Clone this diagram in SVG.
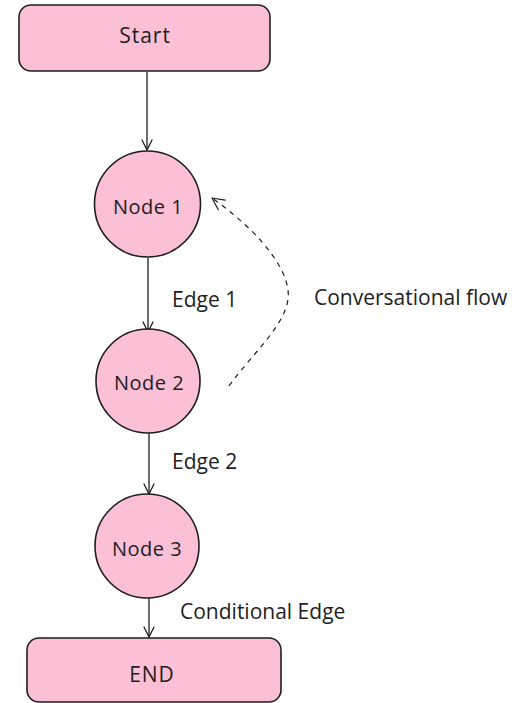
<svg xmlns="http://www.w3.org/2000/svg" width="514" height="703" viewBox="0 0 514 703">
  <defs>
    <marker id="arrow" viewBox="0 0 12 12" refX="11" refY="6" markerWidth="12" markerHeight="12" markerUnits="userSpaceOnUse" orient="auto">
      <path d="M1,1 L11,6 L1,11" fill="none" stroke="#1e1e1e" stroke-width="1.3" stroke-linecap="round" stroke-linejoin="round"/>
    </marker>
    <marker id="arrow-open" viewBox="0 0 14 14" refX="13" refY="7" markerWidth="14" markerHeight="14" markerUnits="userSpaceOnUse" orient="auto">
      <path d="M1,1 L13,7 L1,13" fill="none" stroke="#1e1e1e" stroke-width="1.2" stroke-linecap="round" stroke-linejoin="round"/>
    </marker>
  </defs>
  <style>
    .shape { fill: #fbbfd6; stroke: #1e1e1e; stroke-width: 1.6; }
    .label { font-family: "Open Sans", "DejaVu Sans", sans-serif; font-size: 21px; fill: #1e1e1e; }
    .node-label { font-size: 20px; letter-spacing: 0.5px; }
    .mid { text-anchor: middle; dominant-baseline: central; }
    .edge { fill: none; stroke: #1e1e1e; stroke-width: 1.3; }
    .dash { fill: none; stroke: #1e1e1e; stroke-width: 1.2; stroke-dasharray: 5 5; }
  </style>
  <rect width="514" height="703" fill="#ffffff"/>

  <g id="connectors">
    <path class="edge" d="M147,72 L147,150" marker-end="url(#arrow)"/>
    <path class="edge" d="M148,258 L148,332" marker-end="url(#arrow)"/>
    <path class="edge" d="M149,433 L149,494" marker-end="url(#arrow)"/>
    <path class="edge" d="M149,598 L149,637" marker-end="url(#arrow)"/>
    <path class="dash" d="M229,386 C255,350 292,320 288,290 C284,260 250,225 212,198" marker-end="url(#arrow-open)"/>
    <text class="label" x="172" y="307">Edge 1</text>
    <text class="label" x="172" y="469">Edge 2</text>
    <text class="label" x="180" y="619">Conditional Edge</text>
    <text class="label" x="314" y="305">Conversational flow</text>
  </g>

  <g id="start">
    <rect class="shape" x="19" y="5" width="251" height="66" rx="12"/>
    <text class="label mid" x="145" y="35" style="letter-spacing:1px">Start</text>
  </g>

  <g id="node1">
    <circle class="shape" cx="147.5" cy="204" r="53"/>
    <text class="label node-label mid" x="148" y="206">Node 1</text>
  </g>

  <g id="node2">
    <circle class="shape" cx="148" cy="381" r="52"/>
    <text class="label node-label mid" x="149" y="382">Node 2</text>
  </g>

  <g id="node3">
    <circle class="shape" cx="147" cy="546" r="52"/>
    <text class="label node-label mid" x="147" y="548">Node 3</text>
  </g>

  <g id="end">
    <rect class="shape" x="27" y="638" width="254" height="64" rx="12"/>
    <text class="label mid" x="152" y="674" style="letter-spacing:1px">END</text>
  </g>
</svg>
